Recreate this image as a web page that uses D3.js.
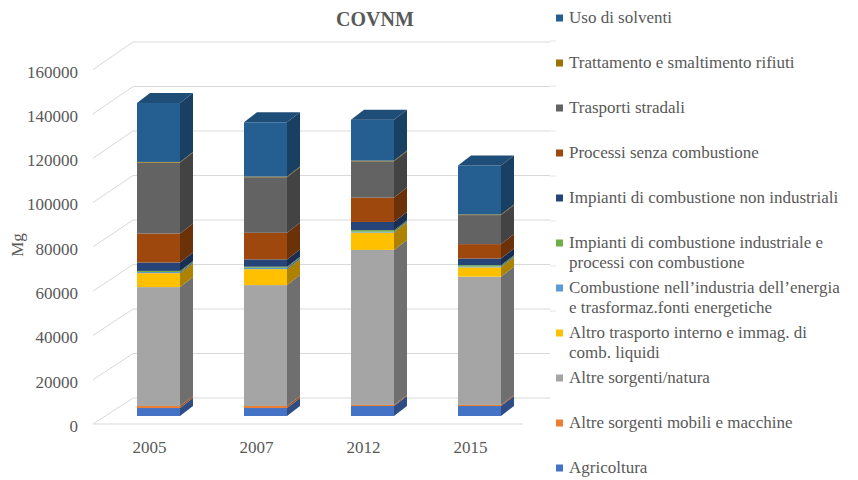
<!DOCTYPE html>
<html>
<head>
<meta charset="utf-8">
<script src="https://cdn.jsdelivr.net/npm/d3@7"></script>
<style>
  html, body { margin: 0; padding: 0; background: #fff; }
  svg { display: block; font-family: "Liberation Serif", "Times New Roman", serif; }
</style>
</head>
<body>
<svg id="chart" width="858" height="480"></svg>
<script>
// ---------- DATA ----------
const years = ["2005", "2007", "2012", "2015"];

// series, bottom to top of each stack
const agricoltura       = [3600, 3600, 4500, 4500];
const altreMobili       = [900, 900, 500, 500];
const altreNatura       = [53700, 54600, 70000, 57900];
const altroTrasporto    = [6300, 7200, 7800, 4200];
const combEnergia       = [500, 600, 400, 400];
const impIndustriali    = [500, 500, 700, 600];
const impNonIndustriali = [3800, 3300, 3700, 3000];
const processi          = [13100, 12000, 11000, 6500];
const trasporti         = [32000, 25100, 16400, 13100];
const rifiuti           = [300, 300, 300, 300];
const solventi          = [26600, 24500, 18500, 22100];

const seriesLabels = [
  "Agricoltura",
  "Altre sorgenti mobili e macchine",
  "Altre sorgenti/natura",
  "Altro trasporto interno e immag. di\ncomb. liquidi",
  "Combustione nell\u2019industria dell\u2019energia\ne trasformaz.fonti energetiche",
  "Impianti di combustione industriale e\nprocessi con combustione",
  "Impianti di combustione non industriali",
  "Processi senza combustione",
  "Trasporti stradali",
  "Trattamento e smaltimento rifiuti",
  "Uso di solventi"
];
const seriesValues = [agricoltura, altreMobili, altreNatura, altroTrasporto, combEnergia,
  impIndustriali, impNonIndustriali, processi, trasporti, rifiuti, solventi];
const seriesColors = ["#4472C4", "#ED7D31", "#A5A5A5", "#FFC000", "#5B9BD5", "#70AD47",
  "#264478", "#9E480E", "#636363", "#997300", "#255E91"];

const yTicks = [0, 20000, 40000, 60000, 80000, 100000, 120000, 140000, 160000];
const title = "COVNM";
const yTitle = "Mg";

// ---------- LAYOUT ----------
const svg = d3.select("#chart");
const textColor = "#595959";
const gridColor = "#d9d9d9";

const yFront = d3.scaleLinear().domain([0, 160000]).range([424, 69.6]);
const yBack = d3.scaleLinear().domain([0, 160000]).range([398, 42]);
const yBarOffset = -8;           // bar front face sits a bit behind the front plane
const x = d3.scaleBand().domain(years).range([100, 528]);
const barW = 43, depthX = 13, depthY = -10;
const wallFrontX = 93, wallBackX = 133, wallRightX = 550;

// back wall gridlines
const grid = svg.append("g");
grid.selectAll("line.h").data(yTicks).join("line")
  .attr("x1", wallBackX).attr("x2", wallRightX)
  .attr("y1", d => yBack(d)).attr("y2", d => yBack(d))
  .attr("stroke", gridColor).attr("stroke-width", 1);
// left wall diagonals
grid.selectAll("line.d").data(yTicks).join("line")
  .attr("x1", wallFrontX).attr("y1", d => yFront(d))
  .attr("x2", wallBackX).attr("y2", d => yBack(d))
  .attr("stroke", gridColor).attr("stroke-width", 1);
// floor front edge
grid.append("line")
  .attr("x1", wallFrontX).attr("x2", 523)
  .attr("y1", yFront(0)).attr("y2", yFront(0))
  .attr("stroke", gridColor).attr("stroke-width", 1);

// ---------- BARS ----------
const stack = d3.stack().keys(d3.range(seriesValues.length))
  .value((d, k) => seriesValues[k][d]);
const stacked = stack(d3.range(years.length));

const barsG = svg.append("g");
years.forEach((yr, i) => {
  const x0 = x(yr) + x.bandwidth() / 2 - 16.5;
  const g = barsG.append("g");
  const segs = stacked.map((s, k) => ({ k, y0: s[i][0], y1: s[i][1] }));
  segs.forEach(sg => {
    const c = seriesColors[sg.k];
    const yb = yFront(sg.y0) + yBarOffset;
    const yt = yFront(sg.y1) + yBarOffset;
    // front face
    g.append("rect").attr("x", x0).attr("y", yt)
      .attr("width", barW).attr("height", Math.max(0, yb - yt))
      .attr("fill", c);
    // side face
    g.append("path")
      .attr("d", `M${x0 + barW},${yb} L${x0 + barW + depthX},${yb + depthY} L${x0 + barW + depthX},${yt + depthY} L${x0 + barW},${yt} Z`)
      .attr("fill", d3.rgb(c).darker(1.1));
  });
  const top = segs[segs.length - 1];
  const yt = yFront(top.y1) + yBarOffset;
  g.append("path")
    .attr("d", `M${x0},${yt} L${x0 + depthX},${yt + depthY} L${x0 + barW + depthX},${yt + depthY} L${x0 + barW},${yt} Z`)
    .attr("fill", d3.rgb(seriesColors[top.k]).darker(0.55));
});

// ---------- AXES ----------
const yAxis = d3.axisLeft(yFront).tickValues(yTicks).tickSize(0).tickPadding(8)
  .tickFormat(d3.format("d"));
const yAxisG = svg.append("g").attr("transform", "translate(86,2)").call(yAxis);
yAxisG.select(".domain").remove();
yAxisG.selectAll("text").attr("fill", textColor)
  .style("font-size", "17px").style("font-family", "Liberation Serif, serif");

const xAxis = d3.axisBottom(x).tickSize(0).tickPadding(8);
const xAxisG = svg.append("g").attr("transform", "translate(-4,433)").call(xAxis);
xAxisG.select(".domain").remove();
xAxisG.selectAll("text").attr("fill", textColor)
  .style("font-size", "17px").style("font-family", "Liberation Serif, serif");

svg.append("text")
  .attr("transform", "translate(23,245) rotate(-90)")
  .attr("text-anchor", "middle")
  .attr("fill", textColor).style("font-size", "17px")
  .text(yTitle);

svg.append("text")
  .attr("x", 375).attr("y", 26)
  .attr("text-anchor", "middle")
  .attr("fill", textColor).style("font-size", "20px").style("font-weight", "bold")
  .text(title);

// ---------- LEGEND ----------
const legendOrder = d3.range(seriesLabels.length).reverse();
const legend = svg.append("g");
legendOrder.forEach((k, idx) => {
  const cy = 18 + idx * 45;
  legend.append("rect")
    .attr("x", 556).attr("y", cy - 3.5).attr("width", 7).attr("height", 7)
    .attr("fill", seriesColors[k]);
  const t = legend.append("text")
    .attr("x", 569).attr("y", cy + 4.5)
    .attr("fill", textColor).style("font-size", "17px");
  seriesLabels[k].split("\n").forEach((line, li) => {
    t.append("tspan").attr("x", 569).attr("dy", li === 0 ? 0 : 20.5).text(line);
  });
  if (idx > 0 && idx < 8) {
    legend.append("line")
      .attr("x1", 550).attr("x2", 556)
      .attr("y1", cy - 22).attr("y2", cy - 22)
      .attr("stroke", "#e6e6e6").attr("stroke-width", 1);
  }
});
</script>
</body>
</html>
